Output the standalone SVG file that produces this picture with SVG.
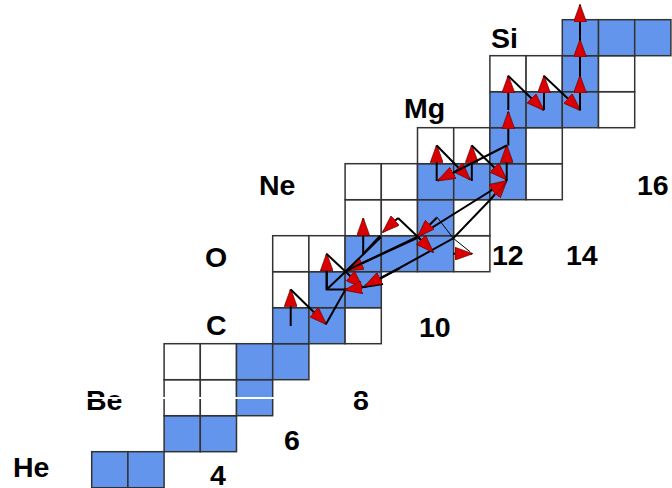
<svg xmlns="http://www.w3.org/2000/svg" width="672" height="488" viewBox="0 0 672 488">
<style>
.c{stroke:#333;stroke-width:1.5}
.b{fill:#6495ed}
.w{fill:#fff}
.t{font-family:"Liberation Sans",Arial,sans-serif;font-weight:bold;font-size:28.5px;fill:#000}
.a{fill:none;stroke:#000;stroke-width:2;marker-end:url(#h)}
.l{fill:none;stroke:#000;stroke-width:2}
.n{fill:none;stroke:#000;stroke-width:1}
</style>
<defs>
<marker id="h" viewBox="0 0 18 13" refX="17" refY="6.5" markerUnits="userSpaceOnUse" markerWidth="18" markerHeight="13" orient="auto">
<path d="M0,0 L18,6.5 L0,13 z" fill="#d80000" stroke="#500" stroke-width="0.6"/>
</marker>
</defs>
<rect width="672" height="488" fill="#fff"/>
<g id="cells">
<g id="He"><rect class="c b" x="91.7" y="451.7" width="36.2" height="36"/><rect class="c b" x="127.9" y="451.7" width="36.2" height="36"/></g>
<g id="Li"><rect class="c b" x="164.1" y="415.7" width="36.2" height="36"/><rect class="c b" x="200.3" y="415.7" width="36.2" height="36"/></g>
<g id="Be"><rect class="c w" x="164.1" y="379.7" width="36.2" height="36"/><rect class="c w" x="200.3" y="379.7" width="36.2" height="36"/><rect class="c b" x="236.5" y="379.7" width="36.2" height="36"/></g>
<g id="B"><rect class="c w" x="164.1" y="343.7" width="36.2" height="36"/><rect class="c w" x="200.3" y="343.7" width="36.2" height="36"/><rect class="c b" x="236.5" y="343.7" width="36.2" height="36"/><rect class="c b" x="272.7" y="343.7" width="36.2" height="36"/></g>
<g id="C"><rect class="c b" x="272.7" y="307.7" width="36.2" height="36"/><rect class="c b" x="308.9" y="307.7" width="36.2" height="36"/><rect class="c w" x="345.1" y="307.7" width="36.2" height="36"/></g>
<g id="N"><rect class="c w" x="272.7" y="271.7" width="36.2" height="36"/><rect class="c b" x="308.9" y="271.7" width="36.2" height="36"/><rect class="c b" x="345.1" y="271.7" width="36.2" height="36"/></g>
<g id="O"><rect class="c w" x="272.7" y="235.7" width="36.2" height="36"/><rect class="c w" x="308.9" y="235.7" width="36.2" height="36"/><rect class="c b" x="345.1" y="235.7" width="36.2" height="36"/><rect class="c b" x="381.3" y="235.7" width="36.2" height="36"/><rect class="c b" x="417.5" y="235.7" width="36.2" height="36"/><rect class="c w" x="453.7" y="235.7" width="36.2" height="36"/></g>
<g id="F"><rect class="c w" x="345.1" y="199.7" width="36.2" height="36"/><rect class="c w" x="381.3" y="199.7" width="36.2" height="36"/><rect class="c b" x="417.5" y="199.7" width="36.2" height="36"/><rect class="c w" x="453.7" y="199.7" width="36.2" height="36"/></g>
<g id="Ne"><rect class="c w" x="345.1" y="163.7" width="36.2" height="36"/><rect class="c w" x="381.3" y="163.7" width="36.2" height="36"/><rect class="c b" x="417.5" y="163.7" width="36.2" height="36"/><rect class="c b" x="453.7" y="163.7" width="36.2" height="36"/><rect class="c b" x="489.9" y="163.7" width="36.2" height="36"/><rect class="c w" x="526.1" y="163.7" width="36.2" height="36"/></g>
<g id="Na"><rect class="c w" x="417.5" y="127.7" width="36.2" height="36"/><rect class="c w" x="453.7" y="127.7" width="36.2" height="36"/><rect class="c b" x="489.9" y="127.7" width="36.2" height="36"/><rect class="c w" x="526.1" y="127.7" width="36.2" height="36"/></g>
<g id="Mg"><rect class="c b" x="489.9" y="91.7" width="36.2" height="36"/><rect class="c b" x="526.1" y="91.7" width="36.2" height="36"/><rect class="c b" x="562.3" y="91.7" width="36.2" height="36"/><rect class="c w" x="598.5" y="91.7" width="36.2" height="36"/></g>
<g id="Al"><rect class="c w" x="489.9" y="55.7" width="36.2" height="36"/><rect class="c w" x="526.1" y="55.7" width="36.2" height="36"/><rect class="c b" x="562.3" y="55.7" width="36.2" height="36"/><rect class="c w" x="598.5" y="55.7" width="36.2" height="36"/></g>
<g id="Si"><rect class="c b" x="562.3" y="19.7" width="36.2" height="36"/><rect class="c b" x="598.5" y="19.7" width="36.2" height="36"/><rect class="c b" x="634.7" y="19.7" width="36.2" height="36"/></g>
</g>
<g id="labels">
<text class="t" x="13" y="476.5">He</text>
<text class="t" x="86" y="410">Be</text>
<text class="t" x="206" y="335">C</text>
<text class="t" x="205" y="267">O</text>
<text class="t" x="259" y="195">Ne</text>
<text class="t" x="404" y="118">Mg</text>
<text class="t" x="491" y="48">Si</text>
<text class="t" x="210" y="485">4</text>
<text class="t" x="284" y="450">6</text>
<text class="t" x="353" y="410">8</text>
<text class="t" x="419" y="337">10</text>
<text class="t" x="492" y="265">12</text>
<text class="t" x="566" y="265">14</text>
<text class="t" x="637" y="195">16</text>
</g>
<g id="connectors">
<!-- CNO -->
<path class="a" d="M290.7,326 V289.5"/>
<path class="a" d="M290.7,289.5 L326,324"/>
<path class="l" d="M326,324 L345.5,289.5"/>
<path class="a" d="M326.7,289.5 V254"/>
<path class="l" d="M326.7,271.7 V289.5 H362"/>
<path class="a" d="M326.7,254 L362.5,287.5"/>
<path class="a" d="M383,284 L345,290"/>
<path class="a" d="M417,238 L346.5,270.5"/>
<!-- big lines -->
<path class="l" d="M326.7,289.5 L346.7,270.5 L381,237"/>
<path class="a" d="M365,287 L453.3,238.3 L490,200 L506.5,181"/>
<path class="a" d="M400,268 L365,286"/>
<path class="a" d="M346.7,270.5 L417.7,236.7 L506.5,181"/>
<path class="a" d="M363.2,254 V218.5"/>
<path class="l" d="M363.2,254 L380,236"/>
<path class="l" d="M418,237 L398,218"/>
<path class="a" d="M398,218 L383,232"/>
<path class="a" d="M436.7,217.7 L418,236.5"/>
<path class="a" d="M417.8,236.7 L433,252"/>
<path class="n" d="M436.7,216.7 L453.3,238.3 L470,251.7"/>
<path class="a" d="M453.3,253.7 H472"/>
<!-- NeNa -->
<path class="a" d="M436.7,181 V145.5"/>
<path class="a" d="M436.7,145.5 L470,179.5"/>
<path class="a" d="M471.8,181 V145.5"/>
<path class="a" d="M471.8,145.5 L506.5,179.5"/>
<path class="a" d="M506.7,181 V145.5"/>
<path class="a" d="M506.7,145.5 L438,180.5"/>
<!-- MgAl -->
<path class="a" d="M508.3,145.5 V112"/>
<path class="a" d="M508.3,110 V76"/>
<path class="a" d="M508.3,76 L543.5,110"/>
<path class="a" d="M544,110 V76"/>
<path class="a" d="M544,76 L580,110"/>
<path class="a" d="M580,110 V76"/>
<path class="a" d="M580,76 V40"/>
<path class="a" d="M580,40 V5"/>
</g>
<rect x="78" y="397" width="294" height="2" fill="#fff"/>
</svg>
